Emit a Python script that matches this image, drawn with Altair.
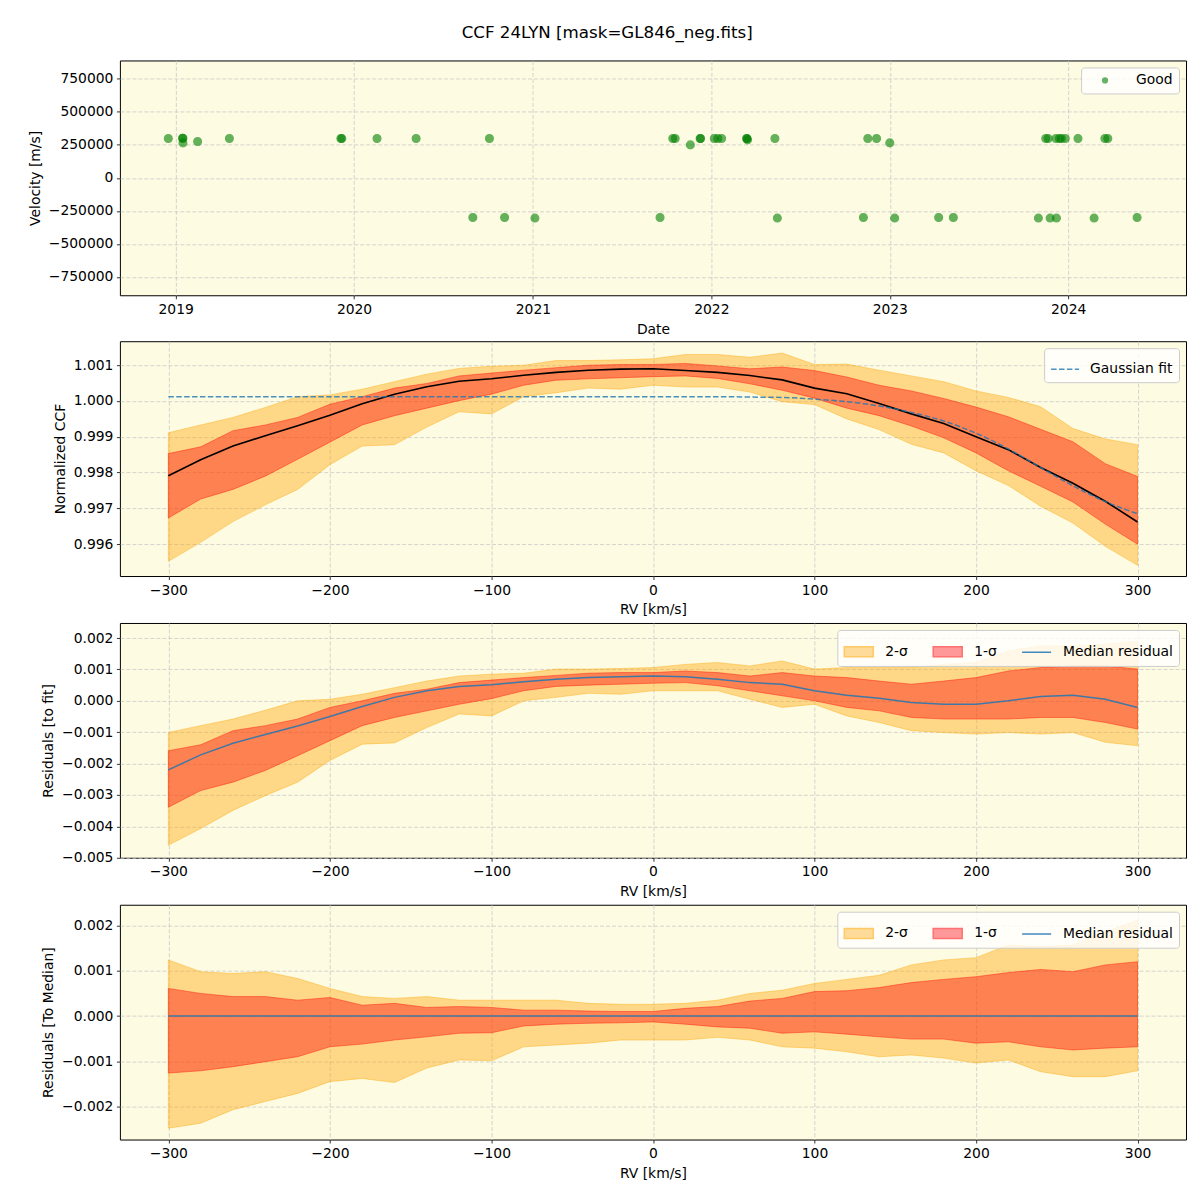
import altair as alt
import pandas as pd

FONT = "DejaVu Sans"

# ---------------- Panel 1: observations ----------------
obs_dates = [
    "2018-12-17", "2019-01-15", "2019-01-16", "2019-01-16", "2019-02-15", "2019-04-21",
    "2019-12-05", "2019-12-07", "2020-02-17", "2020-05-07", "2020-08-31", "2020-10-04",
    "2020-11-04", "2021-01-05", "2021-09-18", "2021-10-14", "2021-10-19", "2021-11-19",
    "2021-12-09", "2021-12-10", "2022-01-07", "2022-01-14", "2022-01-22", "2022-03-14",
    "2022-03-15", "2022-03-16", "2022-05-11", "2022-05-16", "2022-11-08", "2022-11-17",
    "2022-12-05", "2023-01-01", "2023-01-11", "2023-04-11", "2023-05-11", "2023-11-01",
    "2023-11-16", "2023-11-21", "2023-11-25", "2023-12-08", "2023-12-07", "2023-12-14",
    "2023-12-18", "2023-12-26", "2024-01-21", "2024-02-23", "2024-03-16", "2024-03-22",
    "2024-05-21",
]
obs_velocity = [
    298000, 300000, 300000, 265000, 275000, 298000,
    298000, 298000, 298000, 298000, -300000, 298000,
    -300000, -305000, -300000, 298000, 298000, 250000,
    298000, 298000, 298000, 298000, 298000, 298000,
    298000, 288000, 298000, -305000, -300000, 298000,
    298000, 265000, -305000, -300000, -300000, -305000,
    298000, 298000, -305000, -305000, 298000, 298000,
    298000, 298000, 298000, -305000, 298000, 298000,
    -300000,
]
good_label = ["Good"]
velocity_ticks = [-750000, -500000, -250000, 0, 250000, 500000, 750000]
year_ticks = [2019, 2020, 2021, 2022, 2023, 2024]

# ---------------- RV grid (km/s) ----------------
rv_kms = [-300, -280, -260, -240, -220, -200, -180, -160, -140, -120, -100, -80, -60, -40, -20, 0,
          20, 40, 60, 80, 100, 120, 140, 160, 180, 200, 220, 240, 260, 280, 300]
rv_ticks = [-300, -200, -100, 0, 100, 200, 300]

# ---------------- Panel 2: normalized CCF ----------------
ccf_median = [0.99791, 0.99836, 0.99874, 0.99903, 0.99931, 0.99960, 0.99992, 1.00019, 1.00040, 1.00055,
              1.00062, 1.00072, 1.00080, 1.00086, 1.00089, 1.00090, 1.00085, 1.00080, 1.00071, 1.00059,
              1.00036, 1.00020, 0.99993, 0.99964, 0.99937, 0.99900, 0.99864, 0.99814, 0.99770, 0.99720,
              0.99662]
ccf_2s_hi = [0.99911, 0.99933, 0.99954, 0.99982, 1.00012, 1.00017, 1.00033, 1.00054, 1.00075, 1.00091,
             1.00097, 1.00100, 1.00113, 1.00113, 1.00115, 1.00118, 1.00130, 1.00130, 1.00122, 1.00134,
             1.00102, 1.00103, 1.00086, 1.00070, 1.00054, 1.00028, 1.00010, 0.99984, 0.99923, 0.99894,
             0.99878]
ccf_1s_hi = [0.99853, 0.99872, 0.99917, 0.99933, 0.99954, 0.99991, 1.00012, 1.00036, 1.00049, 1.00070,
             1.00078, 1.00086, 1.00093, 1.00100, 1.00102, 1.00102, 1.00105, 1.00098, 1.00090, 1.00095,
             1.00085, 1.00067, 1.00044, 1.00028, 1.00007, 0.99983, 0.99956, 0.99921, 0.99886, 0.99825,
             0.99789]
ccf_1s_lo = [0.99673, 0.99726, 0.99753, 0.99790, 0.99837, 0.99885, 0.99933, 0.99959, 0.99980, 1.00001,
             1.00019, 1.00044, 1.00058, 1.00062, 1.00065, 1.00068, 1.00070, 1.00063, 1.00048, 1.00030,
             1.00008, 0.99980, 0.99959, 0.99930, 0.99897, 0.99855, 0.99805, 0.99762, 0.99718, 0.99656,
             0.99600]
ccf_2s_lo = [0.99552, 0.99605, 0.99663, 0.99710, 0.99753, 0.99822, 0.99874, 0.99878, 0.99927, 0.99970,
             0.99964, 1.00012, 1.00023, 1.00036, 1.00033, 1.00044, 1.00039, 1.00039, 1.00025, 0.99998,
             0.99990, 0.99950, 0.99920, 0.99879, 0.99855, 0.99805, 0.99764, 0.99706, 0.99659, 0.99594,
             0.99541]
gauss_fit = [1.00012, 1.00012, 1.00012, 1.00012, 1.00012, 1.00012, 1.00012, 1.00012, 1.00012, 1.00012,
             1.00012, 1.00012, 1.00012, 1.00012, 1.00012, 1.00012, 1.00012, 1.00012, 1.00011, 1.00010,
             1.00005, 0.99998, 0.99986, 0.99968, 0.99944, 0.99910, 0.99866, 0.99814, 0.99763, 0.99719,
             0.99685]
fit_label = ["Gaussian fit"]
ccf_ticks = [0.996, 0.997, 0.998, 0.999, 1.000, 1.001]

# ---------------- Panel 3: residuals to fit ----------------
res_median = [-0.00220, -0.00172, -0.00135, -0.00107, -0.00080, -0.00050, -0.00018, 0.00011, 0.00032, 0.00046,
              0.00051, 0.00061, 0.00069, 0.00074, 0.00077, 0.00079, 0.00077, 0.00069, 0.00058, 0.00053,
              0.00032, 0.00018, 0.00008, -0.00005, -0.00011, -0.00011, 0.00000, 0.00014, 0.00018, 0.00005,
              -0.00021]
res_2s_hi = [-0.00101, -0.00079, -0.00058, -0.00030, 0.00000, 0.00005, 0.00021, 0.00042, 0.00063, 0.00079,
             0.00085, 0.00088, 0.00101, 0.00101, 0.00103, 0.00106, 0.00116, 0.00122, 0.00111, 0.00127,
             0.00101, 0.00106, 0.00106, 0.00106, 0.00116, 0.00122, 0.00159, 0.00175, 0.00175, 0.00180,
             0.00190]
res_1s_hi = [-0.00159, -0.00140, -0.00095, -0.00079, -0.00058, -0.00021, 0.00000, 0.00024, 0.00037, 0.00058,
             0.00066, 0.00074, 0.00081, 0.00088, 0.00090, 0.00090, 0.00095, 0.00090, 0.00079, 0.00090,
             0.00079, 0.00074, 0.00063, 0.00053, 0.00063, 0.00074, 0.00095, 0.00106, 0.00111, 0.00111,
             0.00101]
res_1s_lo = [-0.00339, -0.00286, -0.00259, -0.00222, -0.00175, -0.00127, -0.00079, -0.00053, -0.00032, -0.00011,
             0.00007, 0.00032, 0.00046, 0.00050, 0.00053, 0.00056, 0.00058, 0.00048, 0.00032, 0.00016,
             0.00000, -0.00021, -0.00032, -0.00053, -0.00058, -0.00058, -0.00058, -0.00053, -0.00053, -0.00069,
             -0.00090]
res_2s_lo = [-0.00460, -0.00407, -0.00349, -0.00302, -0.00259, -0.00190, -0.00138, -0.00134, -0.00085, -0.00042,
             -0.00048, 0.00000, 0.00011, 0.00024, 0.00021, 0.00032, 0.00032, 0.00032, 0.00005, -0.00021,
             -0.00011, -0.00048, -0.00069, -0.00095, -0.00101, -0.00106, -0.00101, -0.00106, -0.00101, -0.00132,
             -0.00143]
res_ticks = [-0.005, -0.004, -0.003, -0.002, -0.001, 0.000, 0.001, 0.002]

# ---------------- Panel 4: residuals to median ----------------
med_median = [0.0, 0.0, 0.0, 0.0, 0.0, 0.0, 0.0, 0.0, 0.0, 0.0, 0.0, 0.0, 0.0, 0.0, 0.0, 0.0,
              0.0, 0.0, 0.0, 0.0, 0.0, 0.0, 0.0, 0.0, 0.0, 0.0, 0.0, 0.0, 0.0, 0.0, 0.0]
med_2s_hi = [0.00124, 0.00098, 0.00094, 0.00098, 0.00083, 0.00061, 0.00043, 0.00039, 0.00043, 0.00035,
             0.00035, 0.00035, 0.00035, 0.00028, 0.00026, 0.00026, 0.00028, 0.00035, 0.00050, 0.00057,
             0.00072, 0.00081, 0.00090, 0.00113, 0.00124, 0.00129, 0.00157, 0.00153, 0.00157, 0.00186,
             0.00212]
med_1s_hi = [0.00061, 0.00050, 0.00043, 0.00043, 0.00035, 0.00041, 0.00024, 0.00028, 0.00019, 0.00021,
             0.00019, 0.00013, 0.00013, 0.00011, 0.00010, 0.00010, 0.00017, 0.00021, 0.00033, 0.00039,
             0.00054, 0.00056, 0.00063, 0.00074, 0.00081, 0.00087, 0.00096, 0.00103, 0.00098, 0.00113,
             0.00120]
med_1s_lo = [-0.00126, -0.00121, -0.00112, -0.00101, -0.00090, -0.00068, -0.00062, -0.00053, -0.00046, -0.00038,
             -0.00037, -0.00022, -0.00018, -0.00016, -0.00015, -0.00013, -0.00018, -0.00024, -0.00027, -0.00038,
             -0.00035, -0.00040, -0.00046, -0.00051, -0.00051, -0.00060, -0.00057, -0.00068, -0.00075, -0.00071,
             -0.00068]
med_2s_lo = [-0.00248, -0.00237, -0.00207, -0.00189, -0.00171, -0.00145, -0.00138, -0.00147, -0.00115, -0.00097,
             -0.00099, -0.00068, -0.00064, -0.00060, -0.00053, -0.00053, -0.00053, -0.00047, -0.00053, -0.00068,
             -0.00071, -0.00079, -0.00090, -0.00086, -0.00093, -0.00104, -0.00097, -0.00123, -0.00134, -0.00134,
             -0.00121]
med_ticks = [-0.002, -0.001, 0.000, 0.001, 0.002]

band_labels = ["2-σ", "1-σ", "Median residual"]

# ---------------- styling ----------------
W, H = 1067, 235
BG = "#fdfbe1"
BLUE = "#1f77b4"
AREA2 = dict(fill="orange", fillOpacity=0.4, stroke="orange", strokeOpacity=0.4, strokeWidth=1)
AREA1 = dict(fill="red", fillOpacity=0.4, stroke="red", strokeOpacity=0.4, strokeWidth=1)
RECT_PATH = "M-1,-0.345H1V0.345H-1Z"

LEG = dict(title=None, orient="top-right", offset=7, fillColor="rgba(255,255,255,0.8)",
           strokeColor="#cccccc", cornerRadius=3, padding=6, labelFont=FONT,
           labelFontSize=13.9, labelColor="black", labelLimit=400)


def x_rv():
    return alt.X("rv:Q", title="RV [km/s]",
                 scale=alt.Scale(domain=[-330, 330], nice=False, zero=False),
                 axis=alt.Axis(values=rv_ticks, format="d"))


def y_enc(field, title, domain, ticks):
    return alt.Y(field, title=title, scale=alt.Scale(domain=domain, nice=False, zero=False),
                 axis=alt.Axis(values=ticks, format=".3f"))


# Panel 1
df_obs = pd.DataFrame({"date": obs_dates, "velocity": obs_velocity})
p1 = alt.Chart(df_obs).transform_calculate(flag="'Good'").mark_circle(
    size=62, opacity=0.6, stroke="green", strokeWidth=1.2
).encode(
    x=alt.X("date:T", title="Date",
            scale=alt.Scale(domain=[alt.DateTime(year=2018, month=9, date=9),
                                    alt.DateTime(year=2024, month=8, date=29)]),
            axis=alt.Axis(values=[alt.DateTime(year=y, month=1, date=1) for y in year_ticks],
                          format="%Y")),
    y=alt.Y("velocity:Q", title="Velocity [m/s]",
            scale=alt.Scale(domain=[-890000, 890000], nice=False, zero=False),
            axis=alt.Axis(values=velocity_ticks, format="d")),
    color=alt.Color("flag:N", scale=alt.Scale(domain=good_label, range=["green"]),
                    legend=alt.Legend(symbolSize=22, symbolOffset=11, labelOffset=24, **LEG)),
).properties(width=W, height=H)

# Panel 2
df_ccf = pd.DataFrame({"rv": rv_kms, "median": ccf_median, "lo1": ccf_1s_lo, "hi1": ccf_1s_hi,
                       "lo2": ccf_2s_lo, "hi2": ccf_2s_hi, "fit": gauss_fit})
dom2 = [0.99511, 1.00167]
T2 = "Normalized CCF"
b2 = alt.Chart(df_ccf)
p2 = alt.layer(
    b2.mark_area(**AREA2).encode(x=x_rv(), y=y_enc("lo2:Q", T2, dom2, ccf_ticks), y2="hi2:Q"),
    b2.mark_area(**AREA1).encode(x=x_rv(), y=y_enc("lo1:Q", T2, dom2, ccf_ticks), y2="hi1:Q"),
    b2.mark_line(color="black", strokeWidth=1.6).encode(x=x_rv(), y=y_enc("median:Q", T2, dom2, ccf_ticks)),
    b2.transform_calculate(series="'Gaussian fit'").mark_line(
        strokeDash=[5.5, 2.4], strokeWidth=1.5, opacity=0.8, interpolate="monotone"
    ).encode(
        x=x_rv(), y=y_enc("fit:Q", T2, dom2, ccf_ticks),
        stroke=alt.Stroke("series:N", scale=alt.Scale(domain=fit_label, range=[BLUE]),
                          legend=alt.Legend(symbolType="stroke", symbolSize=784, symbolDash=[5.5, 2.4],
                                            symbolStrokeWidth=1.5, labelOffset=10, **LEG)),
    ),
).properties(width=W, height=H)


def residual_panel(median, lo1, hi1, lo2, hi2, title, dom, ticks):
    df = pd.DataFrame({"rv": rv_kms, "median": median, "lo1": lo1, "hi1": hi1, "lo2": lo2, "hi2": hi2})
    b = alt.Chart(df)
    leg_df = pd.DataFrame({"series": band_labels})
    leg_kw = dict(direction="horizontal", columns=3, columnPadding=22, symbolSize=841,
                  symbolStrokeWidth=1.5, symbolOpacity=1, labelOffset=11, **LEG)
    legend_layer = alt.Chart(leg_df).mark_point(filled=True, opacity=0).encode(
        x=alt.value(0), y=alt.value(0),
        fill=alt.Fill("series:N", scale=alt.Scale(domain=band_labels,
                                                  range=["#ffdb99", "#ff9999", "rgba(0,0,0,0)"]),
                      legend=alt.Legend(**leg_kw)),
        stroke=alt.Stroke("series:N", scale=alt.Scale(domain=band_labels,
                                                      range=["#ffc966", "#ff7070", "#3f88c0"]),
                          legend=alt.Legend(**leg_kw)),
        shape=alt.Shape("series:N", scale=alt.Scale(domain=band_labels,
                                                    range=[RECT_PATH, RECT_PATH, "stroke"]),
                        legend=alt.Legend(**leg_kw)),
    )
    return alt.layer(
        b.mark_area(**AREA2).encode(x=x_rv(), y=y_enc("lo2:Q", title, dom, ticks), y2="hi2:Q"),
        b.mark_area(**AREA1).encode(x=x_rv(), y=y_enc("lo1:Q", title, dom, ticks), y2="hi1:Q"),
        b.mark_line(color=BLUE, strokeWidth=1.5, opacity=0.85).encode(
            x=x_rv(), y=y_enc("median:Q", title, dom, ticks)),
        legend_layer,
    ).properties(width=W, height=H)


p3 = residual_panel(res_median, res_1s_lo, res_1s_hi, res_2s_lo, res_2s_hi,
                    "Residuals [to fit]", [-0.00500, 0.00248], res_ticks)
p4 = residual_panel(med_median, med_1s_lo, med_1s_hi, med_2s_lo, med_2s_hi,
                    "Residuals [To Median]", [-0.00273, 0.00246], med_ticks)

chart = alt.vconcat(p1, p2, p3, p4, spacing=3).resolve_scale(
    color="independent", fill="independent", stroke="independent", shape="independent"
).resolve_legend(
    color="independent", fill="independent", stroke="independent", shape="independent"
).properties(
    title=alt.TitleParams("CCF 24LYN [mask=GL846_neg.fits]", font=FONT, fontSize=16.7,
                          fontWeight="normal", color="black", anchor="middle", offset=18),
    padding={"left": 19, "top": 16, "right": 5, "bottom": 5},
    background="white",
).configure_view(
    stroke="black", strokeWidth=1, fill=BG
).configure_axis(
    labelFont=FONT, labelFontSize=13.9, labelColor="black", labelPadding=3.5, labelFlush=False,
    titleFont=FONT, titleFontSize=13.9, titleFontWeight="normal", titleColor="black", titlePadding=6,
    tickColor="black", tickSize=3.5, tickWidth=0.8, domain=False,
    grid=True, gridColor="#c9c9c9", gridDash=[4, 2], gridWidth=0.8,
)

chart.save("out.html", embed_options={"renderer": "svg", "actions": False})
